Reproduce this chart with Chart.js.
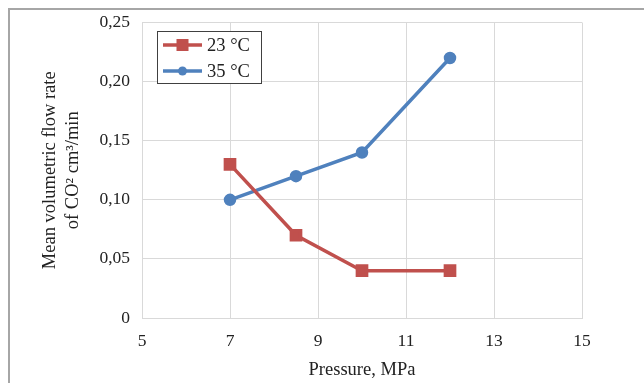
<!DOCTYPE html>
<html>
<head>
<meta charset="utf-8">
<script src="https://cdn.jsdelivr.net/npm/chart.js@4/dist/chart.umd.min.js"></script>
<style>
  html, body { margin: 0; padding: 0; background: #fff; }
  #wrap { position: relative; width: 644px; height: 383px; overflow: hidden; }
  #frame { position: absolute; left: 8px; top: 8px; width: 700px; height: 400px;
           border-top: 2px solid #a6a6a6; border-left: 2px solid #a6a6a6; }
  canvas { position: absolute; left: 0; top: 0; }
</style>
</head>
<body>
<div id="wrap">
  <div id="frame"></div>
  <canvas id="myChart" width="644" height="383"></canvas>
</div>
<script>
const pressure = [7, 8.5, 10, 12];
const flow23 = [0.13, 0.07, 0.04, 0.04];
const flow35 = [0.10, 0.12, 0.14, 0.22];
const seriesLabels = ["23 °C", "35 °C"];
const yTitle = ["Mean volumetric flow rate", "of CO\u00B2 cm\u00B3/min"];
const xTitle = "Pressure, MPa";

const red = "#c0504d";
const blue = "#4f81bd";
const font = "'Liberation Serif', 'Times New Roman', serif";

function points(xs, ys) {
  return xs.map((x, i) => ({ x: x, y: ys[i] }));
}

// legend box drawn inside the plot, Excel style
const boxLegend = {
  id: "boxLegend",
  afterDraw(chart) {
    const ctx = chart.ctx;
    const left = 157, top = 31;
    ctx.save();
    ctx.fillStyle = "#fff";
    ctx.fillRect(left, top, 104, 52);
    ctx.strokeStyle = "#404040";
    ctx.lineWidth = 1;
    ctx.strokeRect(left + 0.5, top + 0.5, 104, 52);
    chart.data.datasets.forEach((ds, i) => {
      const y = top + 14 + i * 26;
      ctx.strokeStyle = ds.borderColor;
      ctx.lineWidth = ds.borderWidth;
      ctx.beginPath();
      ctx.moveTo(left + 6, y);
      ctx.lineTo(left + 45, y);
      ctx.stroke();
      ctx.fillStyle = ds.backgroundColor;
      if (ds.pointStyle === "rect") {
        ctx.fillRect(left + 19.5, y - 6, 12, 12);
      } else {
        ctx.beginPath();
        ctx.arc(left + 25.5, y, 4.5, 0, Math.PI * 2);
        ctx.fill();
      }
      ctx.fillStyle = "#222";
      ctx.font = "18.5px " + font;
      ctx.textBaseline = "middle";
      ctx.fillText(ds.label, left + 50, y + 1);
    });
    ctx.restore();
  }
};

new Chart(document.getElementById("myChart"), {
  type: "line",
  data: {
    datasets: [
      {
        label: seriesLabels[0],
        data: points(pressure, flow23),
        borderColor: red,
        backgroundColor: red,
        borderWidth: 3.5,
        pointStyle: "rect",
        pointRadius: 6.5,
        pointHoverRadius: 6.5,
      },
      {
        label: seriesLabels[1],
        data: points(pressure, flow35),
        borderColor: blue,
        backgroundColor: blue,
        borderWidth: 3.5,
        pointStyle: "circle",
        pointRadius: 4.5,
        pointHoverRadius: 4.5,
      },
    ],
  },
  options: {
    responsive: false,
    animation: false,
    layout: { padding: { left: 0, top: 21, right: 62, bottom: 0 } },
    plugins: {
      legend: { display: false },
      tooltip: { enabled: false },
    },
    scales: {
      x: {
        type: "linear",
        min: 5,
        max: 15,
        ticks: { stepSize: 2, color: "#222", font: { family: font, size: 17.5 }, padding: 13 },
        grid: { color: "#d9d9d9", drawTicks: false },
        border: { color: "#d9d9d9" },
        title: { display: true, text: xTitle, color: "#222", font: { family: font, size: 18.5 }, padding: { top: 4, bottom: 2 } },
        afterFit(s) { s.height = 65; },
      },
      y: {
        min: 0,
        max: 0.25,
        ticks: {
          stepSize: 0.05,
          color: "#222",
          font: { family: font, size: 17.5 },
          padding: 12,
          callback: (v) => (v === 0 ? "0" : v.toFixed(2).replace(".", ",")),
        },
        grid: { color: "#d9d9d9", drawTicks: false },
        border: { color: "#d9d9d9" },
        title: { display: true, text: yTitle, color: "#222", font: { family: font, size: 18.5, lineHeight: 1.25 }, padding: { top: 38.5, bottom: 0 } },
        afterFit(s) { s.width = 142; },
      },
    },
  },
  plugins: [boxLegend],
});
</script>
</body>
</html>
